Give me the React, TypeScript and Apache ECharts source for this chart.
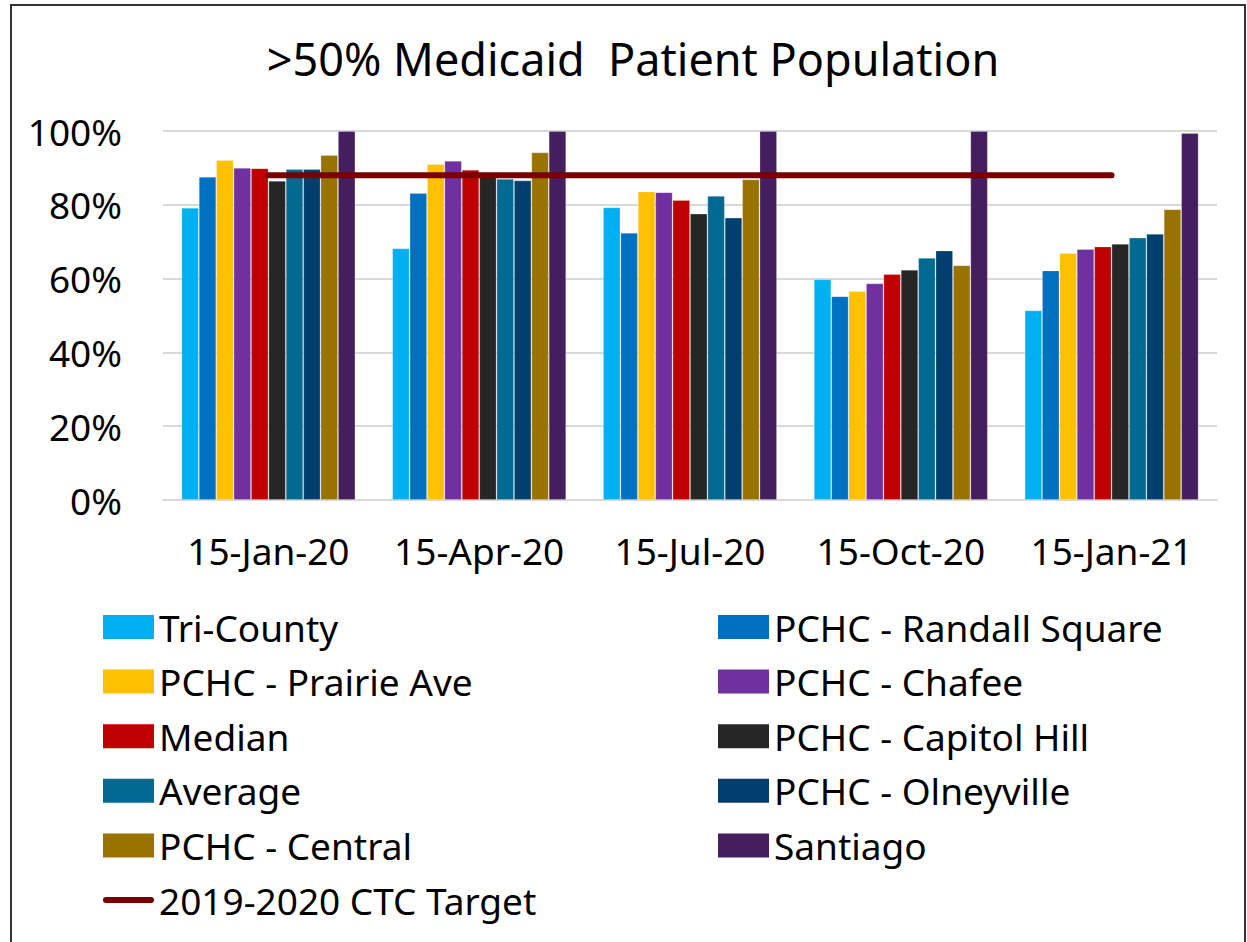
import React, { useEffect, useRef } from "react";
import * as echarts from "echarts";

const categories = ["15-Jan-20", "15-Apr-20", "15-Jul-20", "15-Oct-20", "15-Jan-21"];
const yTicks = [0, 20, 40, 60, 80, 100];

const triCounty = [79.2, 68.2, 79.3, 59.8, 51.4];
const randallSquare = [87.6, 83.2, 72.4, 55.2, 62.2];
const prairieAve = [92.1, 91.0, 83.6, 56.6, 66.9];
const chafee = [90.0, 91.9, 83.4, 58.7, 68.0];
const median = [89.9, 89.5, 81.3, 61.2, 68.7];
const capitolHill = [86.5, 88.0, 77.6, 62.4, 69.4];
const average = [89.7, 87.0, 82.4, 65.6, 71.1];
const olneyville = [89.7, 86.6, 76.5, 67.6, 72.1];
const central = [93.5, 94.2, 86.9, 63.6, 78.8];
const santiago = [100, 100, 100, 100, 99.4];
const ctcTarget = [88, 88, 88, 88, 88];

const barSeries = [
  { name: "Tri-County", data: triCounty, color: "#00B0F0" },
  { name: "PCHC - Randall Square", data: randallSquare, color: "#0070C0" },
  { name: "PCHC - Prairie Ave", data: prairieAve, color: "#FFC000" },
  { name: "PCHC - Chafee", data: chafee, color: "#7030A0" },
  { name: "Median", data: median, color: "#C00000" },
  { name: "PCHC - Capitol Hill", data: capitolHill, color: "#262626" },
  { name: "Average", data: average, color: "#006A90" },
  { name: "PCHC - Olneyville", data: olneyville, color: "#003F6E" },
  { name: "PCHC - Central", data: central, color: "#997300" },
  { name: "Santiago", data: santiago, color: "#441E5E" },
];
const targetName = "2019-2020 CTC Target";

const FONT = "Noto Sans";

export default function App() {
  const ref = useRef<HTMLDivElement>(null);
  useEffect(() => {
    if (!ref.current) return;
    const chart = echarts.init(ref.current, null, { renderer: "svg" });
    const leftNames = [
      barSeries[0].name, barSeries[2].name, barSeries[4].name,
      barSeries[6].name, barSeries[8].name, targetName,
    ];
    const rightNames = [
      barSeries[1].name, barSeries[3].name, barSeries[5].name,
      barSeries[7].name, barSeries[9].name,
    ];
    const legendCommon = {
      orient: "vertical",
      top: 607,
      padding: 0,
      itemWidth: 51,
      itemHeight: 24,
      itemGap: 14.6,
      symbolKeepAspect: true,
      textStyle: { fontFamily: FONT, fontSize: 37, color: "#000", lineHeight: 40 },
      itemStyle: { borderWidth: 0 },
    };
    const lineIcon = "path://M3,0 L50,0 A3,3 0 0 1 50,6 L3,6 A3,3 0 0 1 3,0 Z";
    const toItem = (n: string) =>
      n === targetName ? { name: n, icon: lineIcon, itemStyle: { color: "#780000" } } : { name: n, icon: "rect" };
    chart.setOption({
      animation: false,
      backgroundColor: "#fff",
      title: {
        text: ">50% Medicaid  Patient Population",
        left: 628,
        textAlign: "center",
        top: 31,
        textStyle: { fontFamily: FONT, fontSize: 45, fontWeight: "normal", color: "#000" },
      },
      legend: [
        { ...legendCommon, left: 103, data: leftNames.map(toItem) },
        { ...legendCommon, left: 718, data: rightNames.map(toItem) },
      ],
      grid: { left: 163, right: 30, top: 131, bottom: 442, containLabel: false },
      xAxis: {
        type: "category",
        data: categories,
        axisTick: { show: false },
        axisLine: { lineStyle: { color: "#d9d9d9", width: 2 } },
        axisLabel: { fontFamily: FONT, fontSize: 37, color: "#000", margin: 32, interval: 0 },
      },
      yAxis: {
        type: "value",
        min: yTicks[0],
        max: yTicks[yTicks.length - 1],
        interval: 20,
        axisLine: { show: false },
        axisTick: { show: false },
        splitLine: { lineStyle: { color: "#d9d9d9", width: 2 } },
        axisLabel: { fontFamily: FONT, fontSize: 37, color: "#000", margin: 41, formatter: "{value}%" },
      },
      series: [
        ...barSeries.map((s) => ({
          type: "bar",
          name: s.name,
          data: s.data,
          barGap: "0%",
          barCategoryGap: "17.5%",
          itemStyle: { color: s.color, borderColor: "rgba(255,255,255,0.3)", borderWidth: 0.8 },
        })),
        {
          type: "line",
          name: targetName,
          data: ctcTarget,
          symbol: "none",
          z: 5,
          lineStyle: { color: "#780000", width: 6, cap: "round" },
          itemStyle: { color: "#780000" },
        },
      ],
      graphic: [
        {
          type: "rect",
          shape: { x: 11, y: 5, width: 1234, height: 960 },
          style: { fill: "none", stroke: "#333", lineWidth: 2 },
          silent: true,
        },
      ],
    });
    return () => chart.dispose();
  }, []);
  return <div ref={ref} style={{ position: "absolute", left: 0, top: 0, width: 1247, height: 942 }} />;
}
